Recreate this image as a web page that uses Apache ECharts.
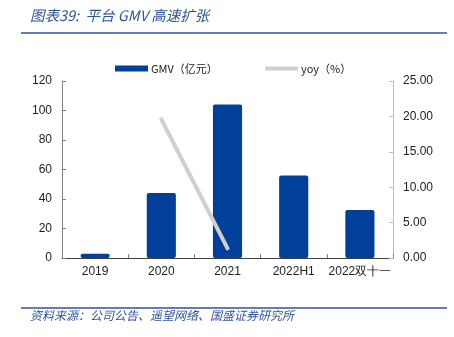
<!DOCTYPE html>
<html><head><meta charset="utf-8">
<script src="https://cdn.jsdelivr.net/npm/echarts@6/dist/echarts.min.js"></script>
<style>html,body{margin:0;padding:0;background:#fff}#c{width:454px;height:337px}</style>
</head><body><div id="c"></div>
<script>
var categories = ['2019', '2020', '2021', '2022H1', '2022双十一'];
var gmv = [2.8, 44, 104, 56, 32.5];
var yoy = [null, 19.6, 1.37, null, null];
var leftTicks = [0, 20, 40, 60, 80, 100, 120];
var rightTicks = [0, 5, 10, 15, 20, 25];

var chart = echarts.init(document.getElementById('c'), null, {renderer: 'canvas'});
var fontCJK = '"Noto Sans CJK SC", "Liberation Sans", sans-serif';
var fontNum = '"Liberation Sans", Arial, sans-serif';
chart.setOption({
  animation: false,
  backgroundColor: '#ffffff',
  graphic: [
    {type: 'text', left: 30, top: 8, style: {text: '图表39:  平台 GMV 高速扩张', font: 'italic 14.5px ' + fontCJK, fill: '#2F5597'}},
    {type: 'line', shape: {x1: 21, y1: 33, x2: 447, y2: 33}, style: {stroke: '#2F5597', lineWidth: 1.5}},
    {type: 'line', shape: {x1: 21, y1: 308, x2: 447, y2: 308}, style: {stroke: '#2F5597', lineWidth: 1.5}},
    {type: 'text', left: 30, top: 309, style: {text: '资料来源：公司公告、遥望网络、国盛证券研究所', font: 'italic 12px ' + fontCJK, fill: '#2F5597'}}
  ],
  legend: [
    {left: 110, top: 58, itemWidth: 33, itemHeight: 6, itemGap: 4, icon: 'rect',
     data: [{name: 'GMV（亿元）'}],
     textStyle: {fontSize: 11, color: '#222', fontFamily: fontCJK, padding: [0,0,0,-2]}},
    {left: 260, top: 58, itemWidth: 33, itemHeight: 4, icon: 'rect',
     data: [{name: 'yoy（%）', itemStyle: {color: '#CFCFCF'}}],
     textStyle: {fontSize: 11, color: '#222', fontFamily: fontCJK, padding: [0,0,0,-2]}}
  ],
  grid: {left: 62, right: 61, top: 81, bottom: 79},
  xAxis: {
    type: 'category', data: categories,
    axisLine: {lineStyle: {color: '#404040', width: 1}},
    axisTick: {show: true, inside: true, length: 4, interval: 0, lineStyle: {color: '#808080'}},
    axisLabel: {fontSize: 12, color: '#222', margin: 8, interval: 0, fontFamily: fontNum}
  },
  yAxis: [
    {type: 'value', min: 0, max: 120, interval: 20,
     splitLine: {show: false},
     axisLine: {show: true, lineStyle: {color: '#808080'}},
     axisTick: {show: true, inside: true, length: 4, lineStyle: {color: '#808080'}},
     axisLabel: {fontSize: 12, color: '#222', margin: 10, fontFamily: fontNum}},
    {type: 'value', min: 0, max: 25, interval: 5, position: 'right',
     splitLine: {show: false},
     axisLine: {show: true, lineStyle: {color: '#BFBFBF'}},
     axisTick: {show: true, inside: true, length: 4, lineStyle: {color: '#BFBFBF'}},
     axisLabel: {fontSize: 12, color: '#222', margin: 10, fontFamily: fontNum,
       formatter: function (v) { return v.toFixed(2); }}}
  ],
  series: [
    {name: 'GMV（亿元）', type: 'bar', data: gmv, barWidth: '44%', yAxisIndex: 0,
     itemStyle: {color: '#00409A', borderRadius: 2}},
    {name: 'yoy（%）', type: 'line', data: yoy, yAxisIndex: 1, symbol: 'none',
     connectNulls: false,
     lineStyle: {color: '#CFCFCF', width: 4, cap: 'round'}, itemStyle: {color: '#CFCFCF'}}
  ]
});
</script></body></html>
